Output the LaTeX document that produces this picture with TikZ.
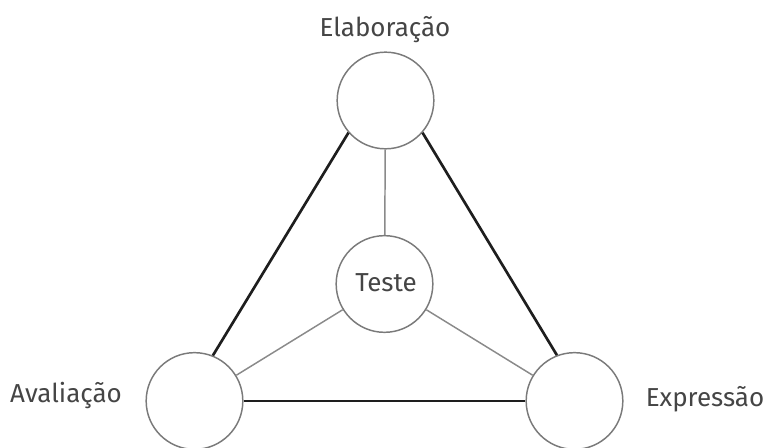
\documentclass[tikz,border=0pt]{standalone}
\usepackage{fontspec}
\setmainfont{Fira Sans}
\definecolor{txt}{HTML}{454545}
\definecolor{thick}{HTML}{1E1E1E}
\definecolor{thin}{HTML}{8A8A8A}
\definecolor{ring}{HTML}{7A7A7A}
\begin{document}
\begin{tikzpicture}[x=0.75pt,y=-0.75pt,
  ball/.style={circle,draw=ring,line width=1.1pt,minimum size=72.5pt,inner sep=0pt,fill=white},
  lab/.style={text=txt,font=\fontsize{19.5}{22}\selectfont},
  strong/.style={draw=thick,line width=2pt},
  weak/.style={draw=thin,line width=1.1pt}]
\useasboundingbox (0,0) rectangle (769,448);
\node[ball] (top) at (385.5,100.5) {};
\node[ball] (mid) at (384.5,284) {};
\node[ball] (bl) at (194.5,401) {};
\node[ball] (br) at (574.5,401) {};
\node[lab] (tt) at (386,283) {Teste};
\node[lab] (tl) at (385,30) {Elaboração};
\node[lab] (al) at (66,395) {Avaliação};
\node[lab] (el) at (705,399) {Expressão};
\draw[weak] (top) -- (mid);
\draw[weak] (mid) -- (bl);
\draw[weak] (mid) -- (br);
\draw[strong] (top.221.7) -- (bl.68);
\draw[strong] (top.319) -- (br.111.7);
\draw[strong] (bl) -- (br);
\end{tikzpicture}
\end{document}
